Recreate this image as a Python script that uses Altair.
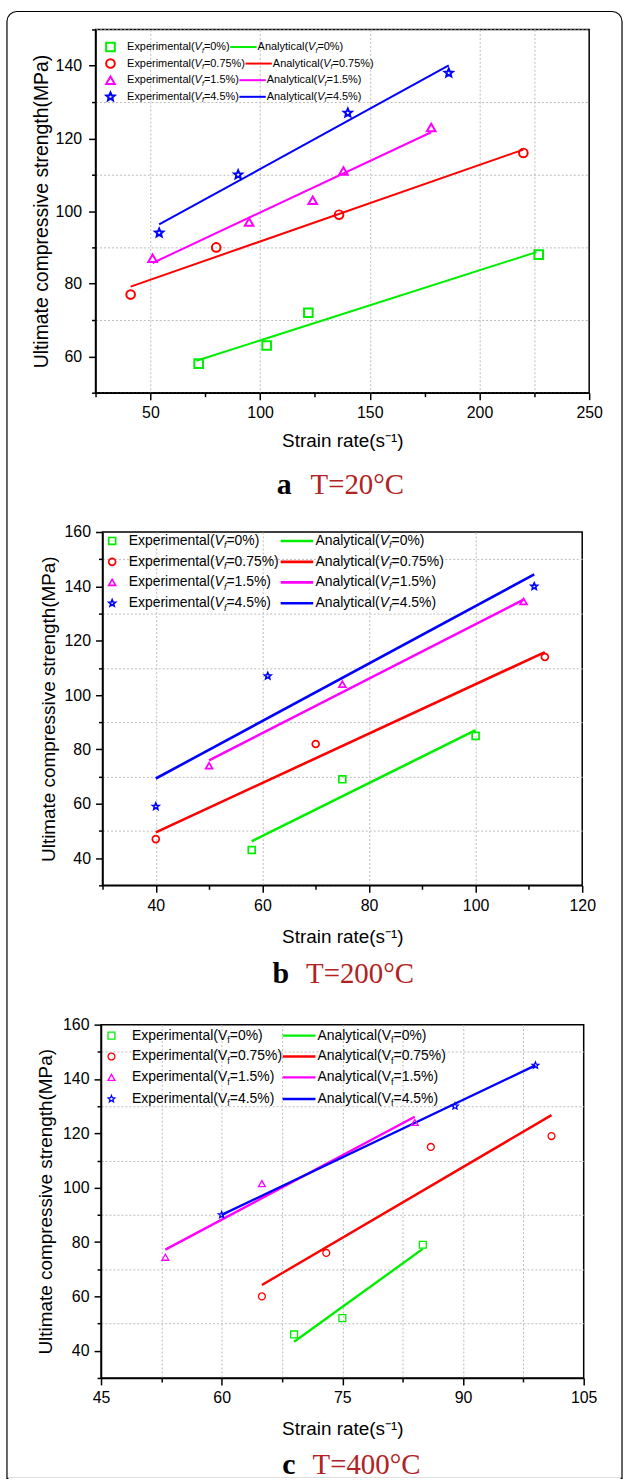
import math
import altair as alt
import pandas as pd

SERIES = ["0%", "0.75%", "1.5%", "4.5%"]
COLORS = ["#00EE00", "#FF0000", "#FF00FF", "#0000FF"]

# ---------------- Panel a (T=20°C) ----------------
a_x0 = [72, 103, 122, 227];        a_y0 = [58, 63, 72, 88]
a_x075 = [41, 80, 136, 220];       a_y075 = [77, 90, 99, 116]
a_x15 = [51, 95, 124, 138, 178];   a_y15 = [87, 97, 103, 111, 123]
a_x45 = [54, 90, 140, 186];        a_y45 = [94, 110, 127, 138]
a_lx0 = [71, 226];   a_ly0 = [58.8, 88.7]
a_lx075 = [41, 220]; a_ly075 = [79.2, 116.9]
a_lx15 = [51, 178];  a_ly15 = [85.7, 121.7]
a_lx45 = [54, 186];  a_ly45 = [96.3, 140.1]
a_xticks = [25, 50, 75, 100, 125, 150, 175, 200, 225, 250]
a_yticks = [50, 60, 70, 80, 90, 100, 110, 120, 130, 140, 150]

# ---------------- Panel b (T=200°C) ----------------
b_x0 = [58, 75, 100];    b_y0 = [43, 69, 85]
b_x075 = [40, 70, 113];  b_y075 = [47, 82, 114]
b_x15 = [50, 75, 109];   b_y15 = [74, 104, 134.5]
b_x45 = [40, 61, 111];   b_y45 = [59, 107, 140]
b_lx0 = [58, 100];   b_ly0 = [46.2, 87.1]
b_lx075 = [40, 113]; b_ly075 = [49.5, 115.8]
b_lx15 = [50, 109];  b_ly15 = [76, 135.1]
b_lx45 = [40, 111];  b_ly45 = [69.3, 144.4]
b_xticks = [30, 40, 50, 60, 70, 80, 90, 100, 110, 120]
b_yticks = [30, 40, 50, 60, 70, 80, 90, 100, 110, 120, 130, 140, 150, 160]

# ---------------- Panel c (T=400°C) ----------------
c_x0 = [69, 75, 85];         c_y0 = [46, 52, 79]
c_x075 = [65, 73, 86, 101];  c_y075 = [60, 76, 115, 119]
c_x15 = [53, 65, 84];        c_y15 = [74.4, 101.5, 124]
c_x45 = [60, 89, 99];        c_y45 = [90, 130, 145]
c_lx0 = [69, 85];    c_ly0 = [43.3, 77.5]
c_lx075 = [65, 101]; c_ly075 = [64.2, 126.7]
c_lx15 = [53, 84];   c_ly15 = [77.2, 126.1]
c_lx45 = [60, 99];   c_ly45 = [90, 145]
c_xticks = [45, 52.5, 60, 67.5, 75, 82.5, 90, 97.5, 105]
c_yticks = [30, 40, 50, 60, 70, 80, 90, 100, 110, 120, 130, 140, 150, 160]

FONT = "Liberation Sans"
SERIF = "Liberation Serif"

# star symbol path (unit coordinates)
_pts = []
for k in range(10):
    ang = math.radians(-90 + 36 * k)
    r = 1.0 if k % 2 == 0 else 0.45
    _pts.append(f"{r * math.cos(ang):.3f},{r * math.sin(ang):.3f}")
STAR = "M" + " L".join(_pts) + " Z"
SHAPES = ["square", "circle", "triangle-up", STAR]

# Arial / Liberation Sans advance widths (per 1000 em) for legend layout
W = {'E': 667, 'x': 500, 'p': 556, 'e': 556, 'r': 333, 'i': 222, 'm': 833, 'n': 556,
     't': 278, 'a': 556, 'l': 222, '(': 333, ')': 333, 'V': 667, 'f': 278, '=': 584,
     '%': 889, '.': 278, 'A': 667, 'y': 500, 'c': 500}


def tw(s, fs):
    return sum(W.get(ch, 556) for ch in s) / 1000.0 * fs


def long_df(xs, ys):
    rows = []
    for s, xv, yv in zip(SERIES, xs, ys):
        for a, b in zip(xv, yv):
            rows.append({"x": a, "y": b, "s": s})
    return pd.DataFrame(rows)


def panel(exp_x, exp_y, ln_x, ln_y, xdom, ydom, w, h, xticks, xmajor, xgrid,
          yticks, ymajor, ygrid, leg, cap, st, border=None):
    def px2x(p):
        return xdom[0] + p / w * (xdom[1] - xdom[0])

    def px2y(p):
        return ydom[1] - p / h * (ydom[1] - ydom[0])

    xs = alt.Scale(domain=xdom, nice=False, zero=False)
    ys = alt.Scale(domain=ydom, nice=False, zero=False)
    xaxis = alt.Axis(
        values=xticks, title="Strain rate(s⁻¹)", titleFontSize=19, titleY=st["xtitle_y"],
        titleBaseline="middle", labelPadding=5, labelFontSize=16, labelFlush=False,
        labelExpr=f"({xmajor}) ? datum.label : ''",
        tickSize={"condition": {"test": xmajor, "value": 7}, "value": 4},
        gridOpacity={"condition": {"test": xgrid, "value": 1}, "value": 0},
    )
    yaxis = alt.Axis(
        values=yticks, title="Ultimate compressive strength(MPa)", titleFontSize=st["ytitle_fs"],
        titleX=st["ytitle_x"], titleBaseline="middle", labelPadding=st["ylabpad"],
        labelFontSize=16, labelExpr=f"({ymajor}) ? datum.label : ''",
        tickSize={"condition": {"test": ymajor, "value": 7}, "value": 4},
        gridOpacity={"condition": {"test": ygrid, "value": 1}, "value": 0},
    )
    X = alt.X("x:Q", scale=xs, axis=xaxis)
    Y = alt.Y("y:Q", scale=ys, axis=yaxis)
    col = alt.Color("s:N", scale=alt.Scale(domain=SERIES, range=COLORS), legend=None)
    shp = alt.Shape("s:N", scale=alt.Scale(domain=SERIES, range=SHAPES), legend=None)

    pts = alt.Chart(long_df(exp_x, exp_y)).mark_point(
        filled=False, size=st["msize"], strokeWidth=st["mstroke"], opacity=1
    ).encode(x=X, y=Y, color=col, shape=shp)
    lines = alt.Chart(long_df(ln_x, ln_y)).mark_line(strokeWidth=st["lw"]).encode(
        x=X, y=Y, color=col, detail="s:N")

    # ---- legend (inside plot, upper left) ----
    fs = leg["fs"]
    pieces, syms, lrules = [], [], []
    for s, py in zip(SERIES, leg["rows"]):
        def vf(prefix, x0):
            out = [(x0, prefix, "n")]
            x = x0 + tw(prefix, fs)
            out.append((x, "V", "v"))
            x += tw("V", fs)
            out.append((x, "f", "sub"))
            x += tw("f", fs * 0.65)
            rest = "=" + s + ")"
            out.append((x, rest, "n"))
            x += tw(rest, fs)
            return out, x
        p1, xe = vf("Experimental(", leg["text_x"])
        if leg["line"] is None:
            l0, l1 = xe + 0.5, xe + 27
            ta = l1 + 1
        else:
            l0, l1, ta = leg["line"]
        p2, _ = vf("Analytical(", ta)
        for (xx, t, k) in p1 + p2:
            pieces.append({"x": px2x(xx), "y": px2y(py), "t": t, "k": k})
        syms.append({"x": px2x(leg["sym_x"]), "y": px2y(py), "s": s})
        lrules.append({"x": px2x(l0), "x2": px2x(l1), "y": px2y(py), "s": s})
    pdf = pd.DataFrame(pieces)
    vstyle = "italic" if leg["italic"] else "normal"
    t_n = alt.Chart(pdf[pdf.k == "n"]).mark_text(
        align="left", baseline="middle", font=FONT, fontSize=fs, color="black"
    ).encode(x=X, y=Y, text="t:N")
    t_v = alt.Chart(pdf[pdf.k == "v"]).mark_text(
        align="left", baseline="middle", font=FONT, fontSize=fs, fontStyle=vstyle, color="black"
    ).encode(x=X, y=Y, text="t:N")
    t_s = alt.Chart(pdf[pdf.k == "sub"]).mark_text(
        align="left", baseline="middle", font=FONT, fontSize=fs * 0.65, fontStyle=vstyle,
        dy=fs * 0.32, color="black"
    ).encode(x=X, y=Y, text="t:N")
    l_sym = alt.Chart(pd.DataFrame(syms)).mark_point(
        filled=False, size=st["msize"], strokeWidth=st["mstroke"], opacity=1
    ).encode(x=X, y=Y, color=col, shape=shp)
    l_rule = alt.Chart(pd.DataFrame(lrules)).mark_rule(strokeWidth=st["lw"]).encode(
        x=X, x2="x2:Q", y=Y, color=col)

    # ---- caption ----
    one = pd.DataFrame({"k": [0]})
    cap1 = alt.Chart(one).mark_text(
        text=cap["letter"], align="right", baseline="middle", font=SERIF, fontSize=30,
        fontWeight="bold", color="black"
    ).encode(x=alt.value(cap["lx"]), y=alt.value(cap["y"]))
    cap2 = alt.Chart(one).mark_text(
        text=cap["temp"], align="left", baseline="middle", font=SERIF, fontSize=29,
        color="#B22222"
    ).encode(x=alt.value(cap["tx"]), y=alt.value(cap["y"]))

    layers = [lines, pts, l_rule, l_sym, t_n, t_v, t_s, cap1, cap2]
    if border == "frame":
        frame = alt.Chart(one).mark_rect(
            cornerRadiusTopLeft=10, cornerRadiusTopRight=10, fillOpacity=0,
            stroke="black", strokeWidth=1.2
        ).encode(x=alt.value(-89), x2=alt.value(529), y=alt.value(-18), y2=alt.value(1456))
        layers = [frame] + layers
    elif border == "mask":
        mask = alt.Chart(one).mark_rule(stroke="white", strokeWidth=2).encode(
            x=alt.value(-93), x2=alt.value(522), y=alt.value(456))
        layers = layers + [mask]
    return alt.layer(*layers).properties(width=w, height=h)


pa = panel(
    [a_x0, a_x075, a_x15, a_x45], [a_y0, a_y075, a_y15, a_y45],
    [a_lx0, a_lx075, a_lx15, a_lx45], [a_ly0, a_ly075, a_ly15, a_ly45],
    [25, 250], [50, 150], 496, 365, a_xticks,
    "datum.value % 50 === 0", "(datum.value % 50 === 0 && datum.value < 250) || datum.value === 225",
    a_yticks, "datum.value % 20 === 0", "datum.value % 20 !== 0",
    dict(fs=11, sym_x=15, text_x=31.7, rows=[17.7, 34.3, 51, 67.7], line=None, italic=True),
    dict(letter="a", temp="T=20°C", lx=197, tx=216, y=458),
    dict(msize=75, mstroke=2, lw=2, xtitle_y=48, ytitle_x=-54, ytitle_fs=19.5, ylabpad=7),
    border="frame",
)

pb = panel(
    [b_x0, b_x075, b_x15, b_x45], [b_y0, b_y075, b_y15, b_y45],
    [b_lx0, b_lx075, b_lx15, b_lx45], [b_ly0, b_ly075, b_ly15, b_ly45],
    [30, 120], [30, 160], 482, 355, b_xticks,
    "datum.value % 20 === 0", "datum.value % 20 === 0 && datum.value < 120",
    b_yticks, "datum.value % 20 === 0", "datum.value % 20 !== 0",
    dict(fs=14, sym_x=9.7, text_x=26.3, rows=[9, 30, 50.6, 71.6], line=(179, 211.7, 214), italic=True),
    dict(letter="b", temp="T=200°C", lx=187.5, tx=204.5, y=444),
    dict(msize=48, mstroke=1.7, lw=2.6, xtitle_y=51, ytitle_x=-54, ytitle_fs=19, ylabpad=5),
)

pc = panel(
    [c_x0, c_x075, c_x15, c_x45], [c_y0, c_y075, c_y15, c_y45],
    [c_lx0, c_lx075, c_lx15, c_lx45], [c_ly0, c_ly075, c_ly15, c_ly45],
    [45, 105], [30, 160], 485, 355, c_xticks,
    "datum.value % 15 === 0", "datum.value > 45 && datum.value < 105",
    c_yticks, "datum.value % 20 === 0", "datum.value % 20 !== 0",
    dict(fs=14, sym_x=10.5, text_x=31.2, rows=[11, 32, 53, 74.7], line=(182.5, 215.5, 217.5), italic=False),
    dict(letter="c", temp="T=400°C", lx=195.5, tx=212.5, y=443),
    dict(msize=48, mstroke=1.3, lw=2.4, xtitle_y=51, ytitle_x=-56, ytitle_fs=19, ylabpad=5),
    border="mask",
)

chart = alt.vconcat(pa, pb, pc, spacing=140, center=True, bounds="flush").properties(
    padding={"left": 5, "top": 6, "right": 0, "bottom": 0},
    background="white",
).configure_axis(
    domainColor="black", domainWidth=1.5, tickColor="black", tickWidth=1.5,
    labelFont=FONT, labelColor="black", titleFont=FONT, titleFontWeight="normal",
    titleColor="black", gridColor="#BBBBBB", gridDash=[2, 2], gridWidth=1,
).configure_view(stroke="black", strokeWidth=1.5)

chart.save("out.html", embed_options={"renderer": "svg", "actions": False})
